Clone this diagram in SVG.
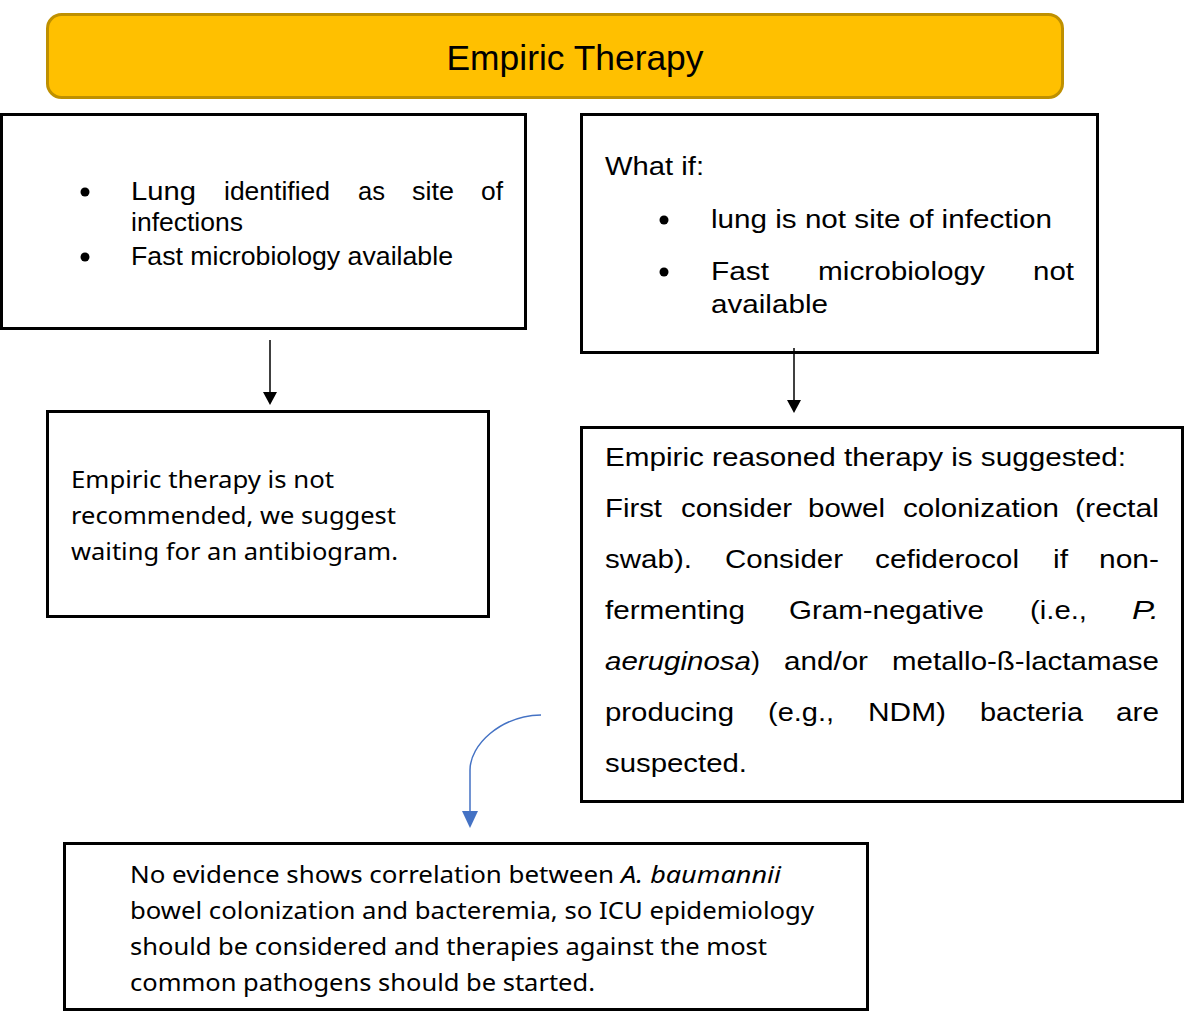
<svg xmlns="http://www.w3.org/2000/svg" width="1192" height="1012" viewBox="0 0 1192 1012">
<style>
.box{fill:#fff;stroke:#000;stroke-width:3}
.a{font-family:"Liberation Sans",Arial,sans-serif;font-size:26px;fill:#000}
.c{font-family:"Noto Sans","Open Sans",sans-serif;font-size:24px;fill:#000}
.i{font-style:italic}
.bul{fill:#000}
</style>
<rect width="1192" height="1012" fill="#fff"/>
<g id="title">
<rect x="47.5" y="14.5" width="1015" height="83" rx="14" fill="#FFC000" stroke="#BF9000" stroke-width="3"/>
<text x="575" y="70" text-anchor="middle" font-family="Liberation Sans,Arial,sans-serif" font-size="35" textLength="257" lengthAdjust="spacingAndGlyphs">Empiric Therapy</text>
</g>
<g id="box1">
<rect class="box" x="1.5" y="114.5" width="524" height="214"/>
<circle class="bul" cx="85" cy="192" r="4.5"/>
<circle class="bul" cx="85" cy="257" r="4.5"/>
<text class="a" x="131" y="200" textLength="65" lengthAdjust="spacingAndGlyphs">Lung</text>
<text class="a" x="224" y="200" textLength="106" lengthAdjust="spacingAndGlyphs">identified</text>
<text class="a" x="358" y="200" textLength="27" lengthAdjust="spacingAndGlyphs">as</text>
<text class="a" x="412" y="200" textLength="42" lengthAdjust="spacingAndGlyphs">site</text>
<text class="a" x="481" y="200" textLength="22" lengthAdjust="spacingAndGlyphs">of</text>
<text class="a" x="131" y="231" textLength="112" lengthAdjust="spacingAndGlyphs">infections</text>
<text class="a" x="131" y="265" textLength="322" lengthAdjust="spacingAndGlyphs">Fast microbiology available</text>
</g>
<g id="box2">
<rect class="box" x="581.5" y="114.5" width="516" height="238"/>
<text class="a" x="605" y="175" textLength="99" lengthAdjust="spacingAndGlyphs">What if:</text>
<circle class="bul" cx="664" cy="220" r="4.5"/>
<circle class="bul" cx="664" cy="272" r="4.5"/>
<text class="a" x="711" y="228" textLength="341" lengthAdjust="spacingAndGlyphs">lung is not site of infection</text>
<text class="a" x="711" y="280" textLength="58" lengthAdjust="spacingAndGlyphs">Fast</text>
<text class="a" x="818" y="280" textLength="167" lengthAdjust="spacingAndGlyphs">microbiology</text>
<text class="a" x="1033" y="280" textLength="41" lengthAdjust="spacingAndGlyphs">not</text>
<text class="a" x="711" y="313" textLength="117" lengthAdjust="spacingAndGlyphs">available</text>
</g>
<g id="box3">
<rect class="box" x="47.5" y="411.5" width="441" height="205"/>
<text class="c" x="71" y="488" textLength="263" lengthAdjust="spacingAndGlyphs">Empiric therapy is not</text>
<text class="c" x="71" y="524" textLength="325" lengthAdjust="spacingAndGlyphs">recommended, we suggest</text>
<text class="c" x="71" y="560" textLength="327" lengthAdjust="spacingAndGlyphs">waiting for an antibiogram.</text>
</g>
<g id="box4">
<rect class="box" x="581.5" y="427.5" width="601" height="374"/>
<text class="a" x="605" y="466" textLength="521" lengthAdjust="spacingAndGlyphs">Empiric reasoned therapy is suggested:</text>
<text class="a" x="605" y="517" textLength="57" lengthAdjust="spacingAndGlyphs">First</text>
<text class="a" x="681" y="517" textLength="111" lengthAdjust="spacingAndGlyphs">consider</text>
<text class="a" x="808" y="517" textLength="77" lengthAdjust="spacingAndGlyphs">bowel</text>
<text class="a" x="903" y="517" textLength="156" lengthAdjust="spacingAndGlyphs">colonization</text>
<text class="a" x="1075" y="517" textLength="84" lengthAdjust="spacingAndGlyphs">(rectal</text>
<text class="a" x="605" y="568" textLength="87" lengthAdjust="spacingAndGlyphs">swab).</text>
<text class="a" x="725" y="568" textLength="118" lengthAdjust="spacingAndGlyphs">Consider</text>
<text class="a" x="875" y="568" textLength="144" lengthAdjust="spacingAndGlyphs">cefiderocol</text>
<text class="a" x="1053" y="568" textLength="15" lengthAdjust="spacingAndGlyphs">if</text>
<text class="a" x="1099" y="568" textLength="60" lengthAdjust="spacingAndGlyphs">non-</text>
<text class="a" x="605" y="619" textLength="140" lengthAdjust="spacingAndGlyphs">fermenting</text>
<text class="a" x="789" y="619" textLength="195" lengthAdjust="spacingAndGlyphs">Gram-negative</text>
<text class="a" x="1030" y="619" textLength="57" lengthAdjust="spacingAndGlyphs">(i.e.,</text>
<text class="a i" x="1132" y="619" textLength="27" lengthAdjust="spacingAndGlyphs">P.</text>
<text class="a i" x="605" y="670" textLength="146" lengthAdjust="spacingAndGlyphs">aeruginosa</text>
<text class="a" x="751" y="670" textLength="9" lengthAdjust="spacingAndGlyphs">)</text>
<text class="a" x="784" y="670" textLength="84" lengthAdjust="spacingAndGlyphs">and/or</text>
<text class="a" x="892" y="670" textLength="267" lengthAdjust="spacingAndGlyphs">metallo-ß-lactamase</text>
<text class="a" x="605" y="721" textLength="129" lengthAdjust="spacingAndGlyphs">producing</text>
<text class="a" x="768" y="721" textLength="66" lengthAdjust="spacingAndGlyphs">(e.g.,</text>
<text class="a" x="868" y="721" textLength="78" lengthAdjust="spacingAndGlyphs">NDM)</text>
<text class="a" x="980" y="721" textLength="103" lengthAdjust="spacingAndGlyphs">bacteria</text>
<text class="a" x="1116" y="721" textLength="43" lengthAdjust="spacingAndGlyphs">are</text>
<text class="a" x="605" y="772" textLength="142" lengthAdjust="spacingAndGlyphs">suspected.</text>
</g>
<g id="box5">
<rect class="box" x="64.5" y="843.5" width="803" height="166"/>
<text class="c" x="130" y="883" textLength="484" lengthAdjust="spacingAndGlyphs">No evidence shows correlation between</text>
<text class="c i" x="621" y="883" textLength="160" lengthAdjust="spacingAndGlyphs">A. baumannii</text>
<text class="c" x="130" y="919" textLength="684" lengthAdjust="spacingAndGlyphs">bowel colonization and bacteremia, so ICU epidemiology</text>
<text class="c" x="130" y="955" textLength="637" lengthAdjust="spacingAndGlyphs">should be considered and therapies against the most</text>
<text class="c" x="130" y="991" textLength="465" lengthAdjust="spacingAndGlyphs">common pathogens should be started.</text>
</g>
<g id="connectors">
<line x1="270" y1="340" x2="270" y2="394" stroke="#000" stroke-width="1.5"/>
<path d="M263,392 L277,392 L270,405 Z" fill="#000"/>
<line x1="794" y1="348" x2="794" y2="402" stroke="#000" stroke-width="1.5"/>
<path d="M787,400 L801,400 L794,413 Z" fill="#000"/>
<path d="M541,715 C500,716 470,745 470,770 L470,812" fill="none" stroke="#4472C4" stroke-width="1.5"/>
<path d="M462,811 L478,811 L470,828 Z" fill="#4472C4"/>
</g>
</svg>
